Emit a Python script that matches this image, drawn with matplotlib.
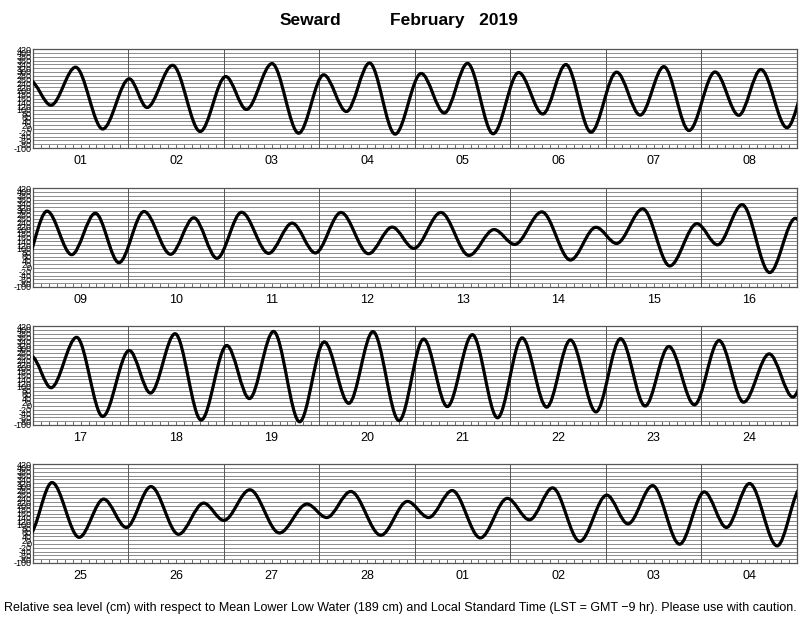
import numpy as np
import pandas as pd
import matplotlib
matplotlib.use("Agg")
import matplotlib.pyplot as plt
from matplotlib.path import Path
from matplotlib.patches import PathPatch

plt.rcParams['font.family'] = ['Liberation Sans', 'DejaVu Sans']

# high / low water times (days since 2019-02-01 00:00 LST) and heights (cm)
t_ext = [
    -0.03, 0.19, 0.448, 0.732, 1.01, 1.196, 1.464, 1.753, 2.02, 2.237, 2.505, 2.784,
    3.046, 3.284, 3.526, 3.794, 4.067, 4.309, 4.552, 4.82, 5.088, 5.34, 5.582, 5.845,
    6.113, 6.36, 6.608, 6.871, 7.144, 7.392, 7.624, 7.897,
    8.149, 8.407, 8.655, 8.902, 9.165, 9.443, 9.686, 9.928, 10.186, 10.469, 10.716, 10.959,
    11.227, 11.515, 11.763, 11.990, 12.273, 12.567, 12.83, 13.046, 13.33, 13.629, 13.897, 14.113,
    14.387, 14.67, 14.954, 15.17, 15.428, 15.716, 15.985,
    16.191, 16.459, 16.732, 17.01, 17.232, 17.49, 17.763, 18.031, 18.268, 18.521, 18.794,
    19.052, 19.309, 19.562, 19.835, 20.093, 20.34, 20.603, 20.866, 21.124, 21.381, 21.629, 21.897,
    22.155, 22.412, 22.66, 22.928, 23.186, 23.443, 23.711, 23.959,
    24.201, 24.485, 24.742, 24.979, 25.237, 25.526, 25.789, 26.0, 26.273, 26.582, 26.871, 27.077,
    27.33, 27.644, 27.923, 28.144, 28.392, 28.686, 28.969, 29.201, 29.443, 29.727, 30.01, 30.232,
    30.49, 30.773, 31.031, 31.263, 31.505, 31.794, 32.05,
]
h_ext = [
    255, 125, 325, 0, 264, 113, 335, -13, 276, 103, 344, -22,
    285, 92, 347, -27, 292, 84, 345, -25, 297, 79, 339, -17,
    299, 73, 328, -8, 300, 72, 313, 7,
    299, 70, 288, 28, 297, 72, 264, 51, 293, 77, 236, 79,
    292, 75, 215, 103, 292, 66, 202, 124, 295, 42, 214, 129,
    311, 11, 233, 122, 333, -24, 261,
    96, 361, -55, 292, 68, 380, -74, 318, 39, 392, -83,
    337, 14, 391, -77, 352, -3, 375, -62, 358, -6, 347, -31,
    354, 0, 313, 6, 344, 20, 274, 47,
    323, 35, 236, 87, 302, 51, 215, 124, 285, 58, 210, 139,
    276, 46, 224, 139, 281, 32, 240, 127, 295, 14, 257, 106,
    307, -1, 274, 87, 318, -10, 300,
]

start = pd.Timestamp('2019-02-01')
n_days = 32
days_per_row = 8
day_labels = [d.strftime('%d') for d in pd.date_range(start, periods=n_days, freq='D')]

# smooth tide curve: cubic segments with flat tangents at each extreme
verts = [(t_ext[0], h_ext[0])]
codes = [Path.MOVETO]
for i in range(len(t_ext) - 1):
    t0, t1 = t_ext[i], t_ext[i + 1]
    h0, h1 = h_ext[i], h_ext[i + 1]
    dt = t1 - t0
    verts += [(t0 + dt / 3, h0), (t1 - dt / 3, h1), (t1, h1)]
    codes += [Path.CURVE4] * 3
tide_path = Path(verts, codes)

fig = plt.figure(figsize=(8, 6.18), dpi=100)

bottoms = [0.7605, 0.5356, 0.3123, 0.089]
for row in range(4):
    ax = fig.add_axes([0.041, bottoms[row], 0.955, 0.160])
    d0 = row * days_per_row
    ax.set_xlim(d0, d0 + days_per_row)
    ax.set_ylim(-100, 420)

    ax.add_patch(PathPatch(tide_path, fill=False, color='black', lw=2.3, zorder=3))

    yt = np.arange(-100, 421, 20)
    ax.set_yticks(yt)
    ax.set_yticklabels([str(v) for v in yt], fontsize=6.5)
    ax.tick_params(axis='y', length=0, pad=1)
    ax.yaxis.grid(True, color='#8c8c8c', lw=0.7)
    ax.set_axisbelow(True)

    for d in range(d0 + 1, d0 + days_per_row):
        ax.axvline(d, color='#555555', lw=0.7, zorder=1)

    ax.set_xticks(np.arange(d0, d0 + days_per_row) + 0.5)
    ax.set_xticklabels(day_labels[d0:d0 + days_per_row], fontsize=9)
    ax.set_xticks(np.arange(d0, d0 + days_per_row, 1 / 12), minor=True)
    ax.xaxis.remove_overlapping_locs = False
    ax.tick_params(axis='x', which='major', length=0, pad=5)
    ax.tick_params(axis='x', which='minor', direction='in', length=3, width=0.6, color='#555555')

    for s in ax.spines.values():
        s.set_color('#555555')
        s.set_linewidth(0.9)

fig.text(0.3875, 0.967, 'Seward', fontsize=12.5, fontweight='bold', ha='center', va='center')
fig.text(0.5675, 0.967, 'February   2019', fontsize=12.5, fontweight='bold', ha='center', va='center')
fig.text(0.5, 0.016, 'Relative sea level (cm) with respect to Mean Lower Low Water (189 cm) and Local '
         'Standard Time (LST = GMT \u22129 hr). Please use with caution.', fontsize=9.0, ha='center', va='center')

fig.savefig('out.png', dpi=100)
